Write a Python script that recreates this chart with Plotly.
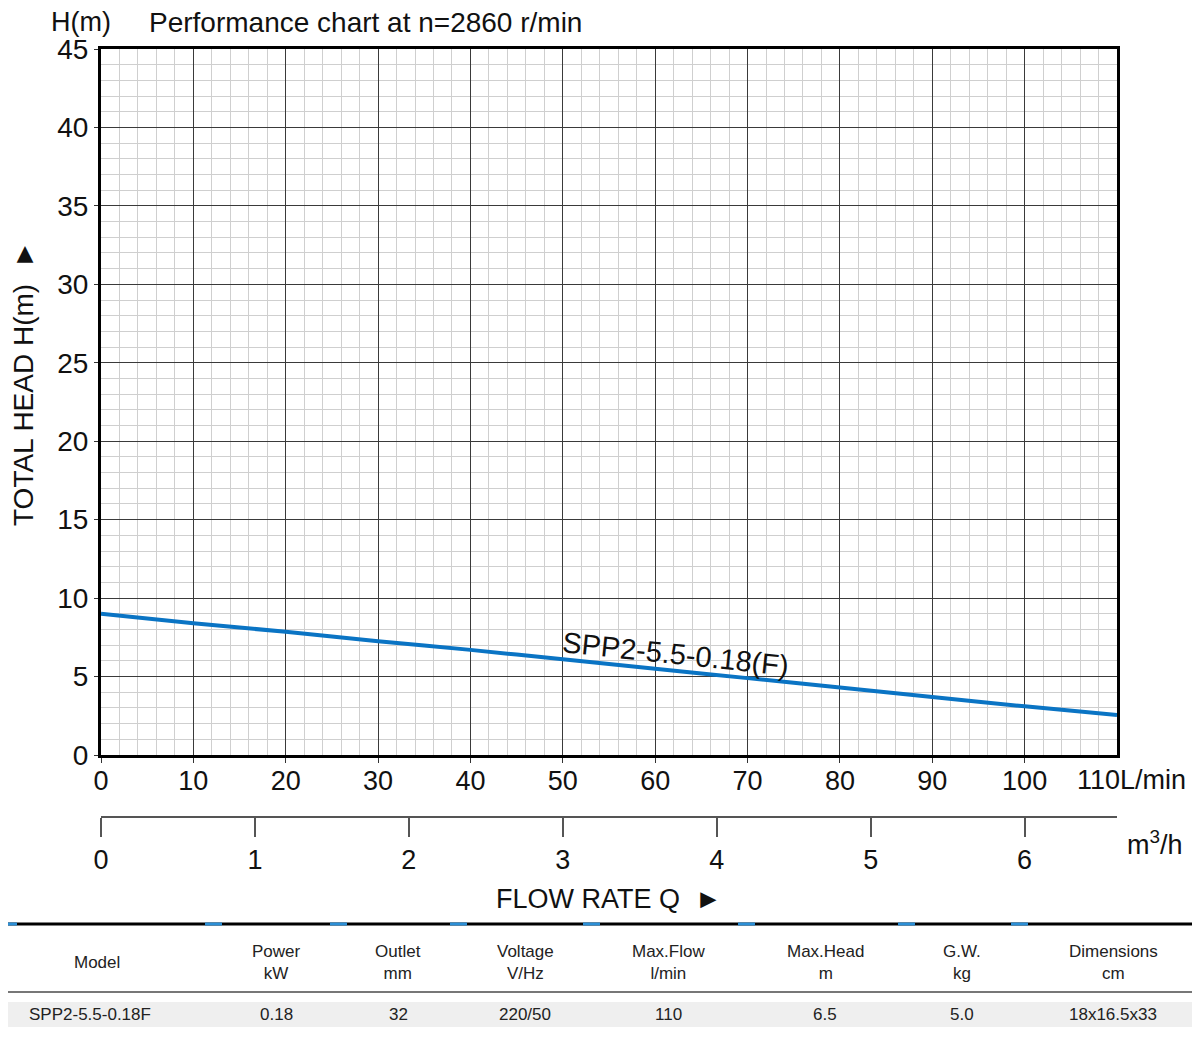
import plotly.graph_objects as go

# ---------------- data ----------------
flow_lpm = [0, 10, 20, 30, 40, 50, 60, 70, 80, 90, 100, 110]
head_m = [9.0, 8.4, 7.85, 7.25, 6.7, 6.1, 5.5, 4.9, 4.3, 3.7, 3.1, 2.55]
curve_name = "SPP2-5.5-0.18(F)"

x_ticks = [0, 10, 20, 30, 40, 50, 60, 70, 80, 90, 100]
x_last_label = "110L/min"
y_ticks = [0, 5, 10, 15, 20, 25, 30, 35, 40, 45]
m3h_ticks = [0, 1, 2, 3, 4, 5, 6]

table_headers = ["Model", "Power<br>kW", "Outlet<br>mm", "Voltage<br>V/Hz",
                 "Max.Flow<br>l/min", "Max.Head<br>m", "G.W.<br>kg", "Dimensions<br>cm"]
table_values = ["SPP2-5.5-0.18F", "0.18", "32", "220/50", "110", "6.5", "5.0", "18x16.5x33"]

# ---------------- layout geometry (pixels, reference coords) ----------------
W, H = 1200, 1044
OFF = 8  # page body margin
L, R_EDGE, T, B_PAPER, PLOT_BOTTOM = 101, 1117, 49, 817, 755
PW = R_EDGE - L
PH = B_PAPER - T

def px(x):
    return (x - L) / PW

def py(y):
    return (B_PAPER - y) / PH

FONT = "Arial, Liberation Sans, sans-serif"
m3h = [q * 60 / 1000 for q in flow_lpm]

fig = go.Figure()
fig.add_trace(go.Scatter(x=flow_lpm, y=head_m, mode="lines",
                         line=dict(color="#0a74c4", width=4, shape="spline", smoothing=0.6),
                         hoverinfo="skip", showlegend=False))
fig.add_trace(go.Scatter(x=m3h, y=head_m, xaxis="x2", mode="lines",
                         line=dict(width=0), opacity=0, hoverinfo="skip", showlegend=False))

fig.update_layout(
    width=W - OFF, height=H - OFF,
    margin=dict(l=L - OFF, r=W - R_EDGE, t=T - OFF, b=H - B_PAPER, pad=0),
    paper_bgcolor="white", plot_bgcolor="white",
    font=dict(family=FONT, color="#111", size=26),
    xaxis=dict(range=[0, 110], tickvals=x_ticks,
               showgrid=True, gridcolor="#3a3a3a", gridwidth=1.3,
               minor=dict(dtick=2, showgrid=True, gridcolor="#cfcfcf", gridwidth=1),
               showline=True, linecolor="black", linewidth=3, mirror=True,
               ticks="outside", ticklen=5, tickcolor="#333", ticklabelstandoff=-5,
               tickfont=dict(size=27, family=FONT, color="#111"),
               zeroline=False, anchor="y"),
    yaxis=dict(range=[0, 45], tickvals=y_ticks, domain=[py(PLOT_BOTTOM), 1],
               showgrid=True, gridcolor="#3a3a3a", gridwidth=1.3,
               minor=dict(dtick=1, showgrid=True, gridcolor="#cfcfcf", gridwidth=1),
               showline=True, linecolor="black", linewidth=3, mirror=True,
               ticks="outside", ticklen=4, tickcolor="#333",
               tickfont=dict(size=28, family=FONT, color="#111"),
               zeroline=False),
    xaxis2=dict(range=[0, 110 * 60 / 1000], tickvals=m3h_ticks, overlaying="x",
                anchor="free", position=0, side="bottom",
                showgrid=False, zeroline=False,
                showline=True, linecolor="#555", linewidth=1.5,
                ticks="outside", ticklen=19, tickcolor="#555", tickwidth=1.5,
                tickfont=dict(size=27, family=FONT, color="#111")),
)

ann = []
ann.append(dict(x=px(49), y=py(22), xref="paper", yref="paper", xanchor="left", yanchor="middle",
                text="H(m)", showarrow=False, font=dict(size=27)))
ann.append(dict(x=px(147), y=py(22), xref="paper", yref="paper", xanchor="left", yanchor="middle",
                text="Performance chart at n=2860 r/min", showarrow=False, font=dict(size=28)))
ann.append(dict(x=px(23), y=py(384), xref="paper", yref="paper", xanchor="center", yanchor="middle",
                text="TOTAL HEAD H(m)  \u25ba", textangle=-90, showarrow=False, font=dict(size=28)))
ann.append(dict(x=px(1075), y=py(780), xref="paper", yref="paper", xanchor="left", yanchor="middle",
                text=x_last_label, showarrow=False, font=dict(size=27)))
ann.append(dict(x=px(1155), y=py(843), xref="paper", yref="paper", xanchor="center", yanchor="middle",
                text="m<sup>3</sup>/h", showarrow=False, font=dict(size=27)))
ann.append(dict(x=px(609), y=py(899), xref="paper", yref="paper", xanchor="center", yanchor="middle",
                text="FLOW RATE Q  \u25ba", showarrow=False, font=dict(size=27)))
ann.append(dict(x=62.2, y=6.45, xref="x", yref="y", xanchor="center", yanchor="middle",
                text=curve_name, textangle=6, showarrow=False, font=dict(size=29)))

col_x = [97, 276, 398, 525, 668, 825, 962, 1113]
data_x = [90, 276, 398, 525, 668, 825, 962, 1113]
for cx, txt in zip(col_x, table_headers):
    ann.append(dict(x=px(cx), y=py(962), xref="paper", yref="paper", xanchor="center", yanchor="middle",
                    text=txt, showarrow=False, font=dict(size=17, color="#222")))
for cx, txt in zip(data_x, table_values):
    ann.append(dict(x=px(cx), y=py(1014), xref="paper", yref="paper", xanchor="center", yanchor="middle",
                    text=txt, showarrow=False, font=dict(size=17, color="#222")))

shapes = []
shapes.append(dict(type="rect", xref="paper", yref="paper", x0=px(0), x1=px(1197), y0=py(1027), y1=py(1002),
                   fillcolor="#efefef", line=dict(width=0), layer="below"))
shapes.append(dict(type="line", xref="paper", yref="paper", x0=px(0), x1=px(1197), y0=py(992), y1=py(992),
                   line=dict(color="#777", width=2)))
shapes.append(dict(type="line", xref="paper", yref="paper", x0=px(0), x1=px(1200), y0=py(924), y1=py(924),
                   line=dict(color="black", width=3)))
blue_segments = [(0, 17), (205, 222), (330, 347), (450, 467), (583, 600), (738, 755), (898, 915), (1011, 1028)]
for a, b in blue_segments:
    shapes.append(dict(type="line", xref="paper", yref="paper", x0=px(a), x1=px(b), y0=py(924), y1=py(924),
                       line=dict(color="#2b8fd6", width=3)))
shapes.append(dict(type="line", xref="paper", yref="paper", x0=px(1197), x1=px(1197), y0=py(0), y1=py(1030),
                   line=dict(color="#444", width=2)))

fig.update_layout(annotations=ann, shapes=shapes)
fig.write_html("out.html")
